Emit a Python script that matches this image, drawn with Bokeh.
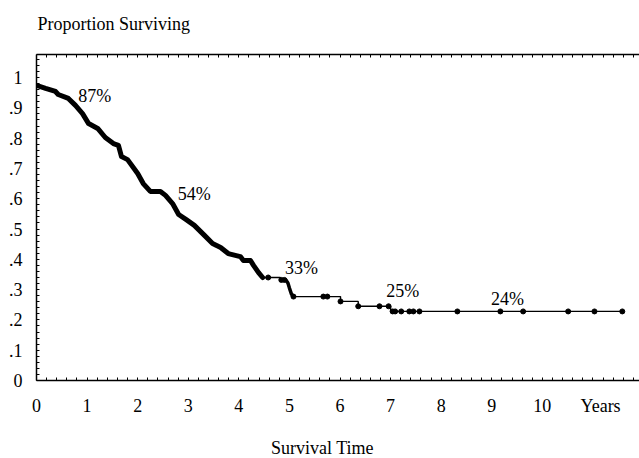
import numpy as np
from bokeh.plotting import figure
from bokeh.layouts import column
from bokeh.models import LinearAxis, FixedTicker, Range1d
from bokeh.core.properties import value
from bokeh.embed import file_html
from bokeh.resources import INLINE

# ---- data ----
# dense early part of the Kaplan-Meier curve (years, proportion surviving)
early_time = [0.00, 0.18, 0.375, 0.43, 0.63, 0.77, 0.91, 1.03, 1.21, 1.36, 1.52, 1.62, 1.68,
              1.80, 2.00, 2.11, 2.25, 2.45, 2.55, 2.69, 2.81, 2.96, 3.12, 3.32, 3.48, 3.64,
              3.79, 4.03, 4.09, 4.23, 4.29, 4.39, 4.47]
early_surv = [0.974, 0.964, 0.954, 0.944, 0.931, 0.908, 0.881, 0.848, 0.832, 0.802, 0.782, 0.776, 0.739,
              0.729, 0.683, 0.650, 0.624, 0.624, 0.611, 0.584, 0.548, 0.531, 0.512, 0.479, 0.452, 0.439,
              0.419, 0.409, 0.396, 0.396, 0.380, 0.356, 0.340]
# flat part after 4.5 years
mid_time = [4.47, 4.82, 4.93]
mid_surv = [0.340, 0.332, 0.332]
# short dense drop near 5 years
drop_time = [4.93, 4.97, 5.00, 5.04, 5.08]
drop_surv = [0.332, 0.322, 0.305, 0.285, 0.277]
# sparse later steps
step_time = [5.08, 6.01, 6.36, 7.00, 11.58]
step_surv = [0.277, 0.261, 0.245, 0.228, 0.228]
# censored observations
cens_time = [4.58, 4.84, 4.90, 5.08, 5.67, 5.75, 6.01, 6.36, 6.78, 6.96, 7.04, 7.09, 7.21,
             7.37, 7.45, 7.57, 8.32, 9.17, 9.62, 10.51, 11.03, 11.58]
cens_surv = [0.340, 0.332, 0.332, 0.277, 0.277, 0.277, 0.261, 0.245, 0.245, 0.245, 0.228, 0.228, 0.228,
             0.228, 0.228, 0.228, 0.228, 0.228, 0.228, 0.228, 0.228, 0.228]
# percentage annotations
note_text = ["87%", "54%", "33%", "25%", "24%"]
note_time = [1.15, 3.12, 5.24, 7.24, 9.31]
note_surv = [0.939, 0.616, 0.371, 0.295, 0.269]
# axis ticks
x_ticks = [0, 1, 2, 3, 4, 5, 6, 7, 8, 9, 10, 11.15]
x_labels = ["0", "1", "2", "3", "4", "5", "6", "7", "8", "9", "10", "Years"]
y_ticks = [0, 0.1, 0.2, 0.3, 0.4, 0.5, 0.6, 0.7, 0.8, 0.9, 1.0]
y_labels = ["0", ".1", ".2", ".3", ".4", ".5", ".6", ".7", ".8", ".9", "1"]
y_title = "Proportion Surviving"
x_title = "Survival Time"

FONT = "Liberation Serif"
FS = "18px"
W = 639
LEFT = 36
TOP_H = 44
BOT_H = 40
MAIN_H = 458 - TOP_H - BOT_H


def text_strip(height, txt, x, y, align):
    # strip whose frame spans the same columns as the main plot; data units = pixels
    f = figure(width=W, height=height, x_range=Range1d(LEFT, W), y_range=Range1d(height, 0),
               output_backend="svg", toolbar_location=None,
               min_border_left=LEFT, min_border_right=0, min_border_top=0, min_border_bottom=0,
               x_axis_location=None, y_axis_location=None)
    f.outline_line_color = None
    f.grid.visible = False
    f.background_fill_color = "white"
    f.border_fill_color = "white"
    f.text([x], [y], text=[txt], text_align=align, text_baseline="alphabetic",
           text_font=value(FONT), text_font_size=FS, text_color="black")
    return f


top = text_strip(TOP_H, y_title, 37, 23, "left")
bot = text_strip(BOT_H, x_title, 322, 29, "center")

p = figure(width=W, height=MAIN_H, x_range=(0, 11.92), y_range=(0, 1.076),
           output_backend="svg", toolbar_location=None,
           min_border_left=LEFT, min_border_right=0, min_border_top=54 - TOP_H,
           min_border_bottom=MAIN_H - (54 - TOP_H) - 326,
           x_axis_location=None, y_axis_location=None)
p.outline_line_color = None
p.xgrid.visible = False
p.ygrid.visible = False
p.background_fill_color = "white"
p.border_fill_color = "white"

x_minor = [round(i * 0.2, 2) for i in range(0, 60)]
y_minor = [round(i * 0.02, 2) for i in range(0, 54)]


def style(ax):
    ax.axis_line_color = "black"
    ax.axis_line_width = 1.5
    ax.major_tick_in = 0
    ax.major_tick_out = 0
    ax.minor_tick_in = 3
    ax.minor_tick_out = 0
    ax.minor_tick_line_color = "black"
    ax.major_label_text_font = FONT
    ax.major_label_text_font_size = FS
    ax.major_label_text_color = "black"


xb = LinearAxis(ticker=FixedTicker(ticks=x_ticks, minor_ticks=x_minor))
style(xb)
xb.major_label_overrides = {t: l for t, l in zip(x_ticks, x_labels)}
xb.major_label_standoff = 15
p.add_layout(xb, "below")

xt = LinearAxis(ticker=FixedTicker(ticks=x_ticks, minor_ticks=x_minor))
style(xt)
xt.major_label_text_color = None
xt.major_label_text_font_size = "1px"
xt.major_label_standoff = 0
p.add_layout(xt, "above")

yl = LinearAxis(ticker=FixedTicker(ticks=y_ticks, minor_ticks=y_minor))
style(yl)
yl.major_label_overrides = {t: l for t, l in zip(y_ticks, y_labels)}
yl.major_label_standoff = 14
p.add_layout(yl, "left")

# curve
p.line(early_time, early_surv, line_width=5, line_color="black", line_join="round", line_cap="round")
p.step(mid_time, mid_surv, mode="after", line_width=1.4, line_color="black")
p.line(drop_time, drop_surv, line_width=3.5, line_color="black", line_join="round", line_cap="round")
p.step(step_time, step_surv, mode="after", line_width=1.4, line_color="black")
p.scatter(cens_time, cens_surv, size=5, color="black")

p.text(note_time, note_surv, text=note_text, text_align="center", text_baseline="middle",
       text_font=value(FONT), text_font_size=FS, text_color="black")

layout = column(top, p, bot, spacing=0)
open("out.html", "w").write(file_html(layout, INLINE))
